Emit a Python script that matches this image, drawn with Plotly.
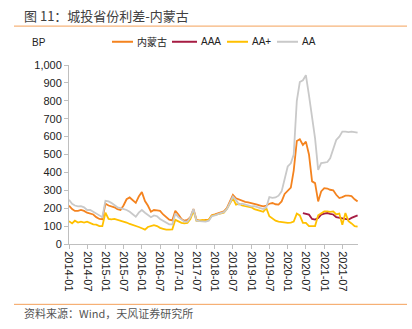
import plotly.graph_objects as go
import pandas as pd

# Monthly dates 2014-01 .. 2021-12
dates = pd.date_range("2014-01-01", "2021-12-01", freq="MS")

neimenggu = [214, 195, 185, 185, 190, 185, 175, 170, 165, 150, 140, 138,
             225, 215, 210, 205, 195, 190, 215, 250, 260, 245, 230, 265,
             290, 240, 215, 180, 190, 188, 185, 165, 150, 136, 132, 185,
             165, 140, 130, 135, 150, 195, 135, 130, 130, 135, 135, 160,
             165, 172, 178, 182, 200, 240, 275, 255, 247, 240, 235, 232,
             229, 225, 220, 215, 210, 215, 225, 229, 222, 220, 238, 280,
             300, 315, 410, 575, 585, 553, 572, 500, 350, 340, 238, 294,
             312, 310, 303, 300, 275, 257, 262, 270, 270, 268, 250, 238]

aaa = [None] * 77 + [173, 168, 164, 140, 136, 145, 164, 170, 173, 168,
                     165, 150, 146, 140, 138, 136, 146, 155, 160]

aa_plus = [127, 115, 130, 120, 125, 120, 125, 118, 110, 108, 100, 100,
           175, 140, 138, 140, 135, 130, 128, 120, 112, 105, 100, 95,
           88, 80, 95, 100, 105, 100, 90, 85, 80, 80, 82, 135,
           125, 118, 115, 118, 140, 185, 130, 130, 135, 130, 135, 158,
           162, 168, 172, 175, 195, 228, 255, 220, 225, 215, 212, 210,
           205, 195, 192, 185, 180, 200, 155, 140, 130, 125, 122, 120,
           118, 120, 125, 170, 160, 118, 118, 100, 99, 100, 160, 173,
           182, 182, 180, 182, 165, 170, 108, 173, 127, 115, 100, 97]

aa = [247, 225, 215, 210, 212, 205, 190, 190, 180, 170, 160, 150,
      241, 238, 230, 215, 205, 200, 195, 190, 180, 165, 152, 175,
      190, 175, 165, 150, 160, 155, 140, 130, 118, 110, 110, 170,
      150, 135, 125, 125, 150, 195, 130, 128, 127, 125, 130, 155,
      160, 168, 172, 178, 195, 230, 265, 245, 220, 225, 220, 215,
      210, 212, 205, 200, 195, 205, 262, 258, 260, 270, 294, 360,
      433, 451, 500, 800, 905, 915, 943, 830, 700, 590, 414, 452,
      455, 458, 479, 536, 581, 600, 628, 628, 625, 628, 625, 622]

names = ["内蒙古", "AAA", "AA+", "AA"]
colors = ["#F4831F", "#A61C43", "#FFC000", "#C9C9C9"]
values = [neimenggu, aaa, aa_plus, aa]

y_ticks = list(range(0, 1001, 100))

W, H = 412, 329
L, R, T, B = 69, 54, 65, 84.5
pw, ph = W - L - R, H - T - B


def px(x):
    return (x - L) / pw


def py(y):
    return (H - B - y) / ph


fig = go.Figure()
for name, vals, col in zip(names, values, colors):
    fig.add_trace(go.Scatter(x=dates, y=vals, name=name, mode="lines",
                             line=dict(color=col, width=1.8),
                             connectgaps=False, showlegend=False))

font_main = "Liberation Sans, Arial, Noto Sans CJK SC, sans-serif"
fig.update_layout(
    width=W, height=H,
    margin=dict(l=L, r=R, t=T, b=B, pad=0),
    paper_bgcolor="white", plot_bgcolor="white",
    font=dict(family=font_main, size=11, color="#222"),
    showlegend=False,
    xaxis=dict(type="date", range=["2014-01-01", "2021-12-05"],
               dtick="M6", tick0="2014-01-01", tickformat="%Y-%m",
               tickangle=90, showgrid=False, zeroline=False,
               showline=True, linecolor="#BFBFBF", linewidth=1,
               ticks="outside", ticklen=4, tickcolor="#BFBFBF",
               tickfont=dict(size=11, color="#222")),
    yaxis=dict(range=[0, 1000], tickvals=y_ticks, tickformat=",",
               showgrid=False, zeroline=False, showline=True,
               linecolor="#BFBFBF", linewidth=1, ticks="outside",
               ticklen=4, tickcolor="#BFBFBF",
               tickfont=dict(size=11, color="#222")),
)

# Legend (drawn manually to match the reference spacing)
leg_y = 41.7
leg_lines = [(112, 133), (172, 197), (227, 248), (277, 298)]
for (x0, x1), name, col in zip(leg_lines, names, colors):
    fig.add_shape(type="line", xref="paper", yref="paper",
                  x0=px(x0), x1=px(x1), y0=py(leg_y), y1=py(leg_y),
                  line=dict(color=col, width=2))
    fig.add_annotation(text=name, xref="paper", yref="paper",
                       x=px(x1 + 2), y=py(leg_y), xanchor="left",
                       yanchor="middle", showarrow=False,
                       font=dict(size=10, color="#222",
                                 family="Liberation Sans, Noto Sans CJK SC, sans-serif"))

fig.add_annotation(text="图 11：城投省份利差-内蒙古", xref="paper", yref="paper",
                   x=px(22), y=py(15), xanchor="left", yanchor="middle",
                   showarrow=False,
                   font=dict(size=13, color="#404040",
                             family="Noto Sans CJK SC, sans-serif"))
fig.add_annotation(text="BP", xref="paper", yref="paper",
                   x=px(30), y=py(42), xanchor="left", yanchor="middle",
                   showarrow=False, font=dict(size=10, color="#222"))
fig.add_annotation(text="资料来源：Wind，天风证券研究所", xref="paper", yref="paper",
                   x=px(22), y=py(314), xanchor="left", yanchor="middle",
                   showarrow=False,
                   font=dict(size=11, color="#555",
                             family="Noto Sans CJK SC, sans-serif"))
for yy in (26, 305):
    fig.add_shape(type="line", xref="paper", yref="paper",
                  x0=px(14), x1=px(407), y0=py(yy), y1=py(yy),
                  line=dict(color="#F4A15A", width=1))

fig.write_html("out.html")
